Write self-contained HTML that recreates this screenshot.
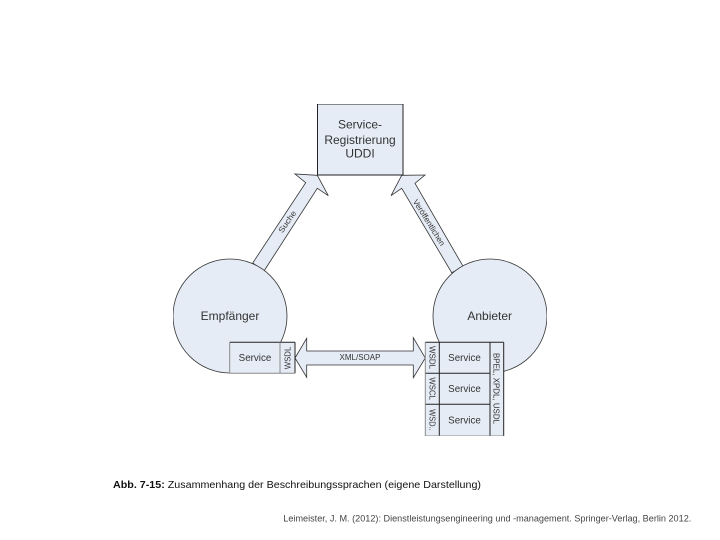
<!DOCTYPE html>
<html lang="de">
<head>
<meta charset="utf-8">
<title>Zusammenhang der Beschreibungssprachen</title>
<style>
html,body{margin:0;padding:0;background:#fff;width:720px;height:540px;overflow:hidden}
svg{display:block}
text{font-family:"Liberation Sans",sans-serif}
</style>
</head>
<body>
<svg width="720" height="540" viewBox="0 0 720 540" xmlns="http://www.w3.org/2000/svg">
<defs><filter id="b" x="0" y="0" width="100%" height="100%"><feGaussianBlur stdDeviation="0.3"/></filter></defs>
<g filter="url(#b)">
<g stroke="#333" stroke-width="0.8" fill="#e6ecf6">
  <polygon points="317.3,175.3 295,174 305.7,182.7 252.7,263 264,271 317.3,188.3 328.3,195.7"/>
  <polygon points="401.7,175.3 425,175 415,183.3 463.3,266.7 451.7,272.7 401.7,188.3 391,195.7"/>
  <circle cx="230" cy="316" r="57"/>
  <circle cx="490" cy="316" r="57"/>
</g>
<rect x="317.5" y="104" width="85.5" height="71" fill="#e6ecf6" stroke="#222" stroke-width="1"/>
<polygon points="295,358 306.7,338.3 306.7,351 413.3,351 413.3,337.7 425.3,358 413.3,377.7 413.3,365 306.7,365 306.7,377.3" fill="#e6ecf6" stroke="#333" stroke-width="0.8"/>

<rect x="229.7" y="342.3" width="65.3" height="31" fill="#e6ecf6"/>
<rect x="425.3" y="342.3" width="78.4" height="93.7" fill="#e6ecf6"/>
<g stroke="#222" stroke-width="1">
  <line x1="229.7" y1="342.3" x2="295" y2="342.3"/>
  <line x1="295" y1="342.3" x2="295" y2="373.3"/>
  <line x1="425.3" y1="342.3" x2="503.7" y2="342.3"/>
  <line x1="503.7" y1="342.3" x2="503.7" y2="436"/>
  <line x1="439.3" y1="342.3" x2="439.3" y2="436"/>
  <line x1="490" y1="342.3" x2="490" y2="436"/>
  <line x1="425.3" y1="373.3" x2="490" y2="373.3"/>
  <line x1="425.3" y1="404.3" x2="490" y2="404.3"/>
</g>
<g stroke="#8a8a8a" stroke-width="1">
  <line x1="229.7" y1="342.3" x2="229.7" y2="373.3"/>
  <line x1="229.7" y1="373.3" x2="295" y2="373.3"/>
  <line x1="280" y1="342.3" x2="280" y2="373.3"/>
  <line x1="425.3" y1="342.3" x2="425.3" y2="436"/>
  <line x1="425.3" y1="436" x2="503.7" y2="436"/>
</g>

<g fill="#333" text-anchor="middle">
  <text x="360" y="128.5" font-size="12">Service-</text>
  <text x="360" y="144" font-size="12">Registrierung</text>
  <text x="360" y="157.5" font-size="12">UDDI</text>
  <text x="230" y="320" font-size="12">Empfänger</text>
  <text x="489.7" y="320" font-size="12">Anbieter</text>
  <text x="255" y="361" font-size="9.8">Service</text>
  <text x="464.5" y="361" font-size="9.8">Service</text>
  <text x="464.5" y="392" font-size="9.8">Service</text>
  <text x="464.5" y="423.5" font-size="9.8">Service</text>
  <text x="360" y="360" font-size="8">XML/SOAP</text>
  <text transform="translate(287.3,358) rotate(-90)" y="3" font-size="8" textLength="22.6" lengthAdjust="spacingAndGlyphs">WSDL</text>
  <text transform="translate(432.3,357.5) rotate(90)" y="3" font-size="8" textLength="23" lengthAdjust="spacingAndGlyphs">WSDL</text>
  <text transform="translate(432.3,388.7) rotate(90)" y="3" font-size="8" textLength="22.6" lengthAdjust="spacingAndGlyphs">WSCL</text>
  <text transform="translate(432.3,420) rotate(90)" y="3" font-size="8" textLength="21.4" lengthAdjust="spacingAndGlyphs">WSD..</text>
  <text transform="translate(496.7,388.5) rotate(90)" y="3" font-size="8" textLength="71" lengthAdjust="spacingAndGlyphs">BPEL, XPDL, USDL</text>
  <text transform="translate(287.3,221.7) rotate(-55)" y="2.7" font-size="8" textLength="25" lengthAdjust="spacingAndGlyphs">Suche</text>
  <text transform="translate(429,222.5) rotate(58)" y="2.7" font-size="8" textLength="53" lengthAdjust="spacingAndGlyphs">Veröffentlichen</text>
</g>
</g>

<text x="113" y="488" font-size="10.5" fill="#111" textLength="368" lengthAdjust="spacingAndGlyphs"><tspan font-weight="bold">Abb. 7-15:</tspan> Zusammenhang der Beschreibungssprachen (eigene Darstellung)</text>
<text x="283.3" y="521.5" font-size="9" fill="#444" textLength="408" lengthAdjust="spacingAndGlyphs">Leimeister, J. M. (2012): Dienstleistungsengineering und -management. Springer-Verlag, Berlin 2012.</text>
</svg>
</body>
</html>
